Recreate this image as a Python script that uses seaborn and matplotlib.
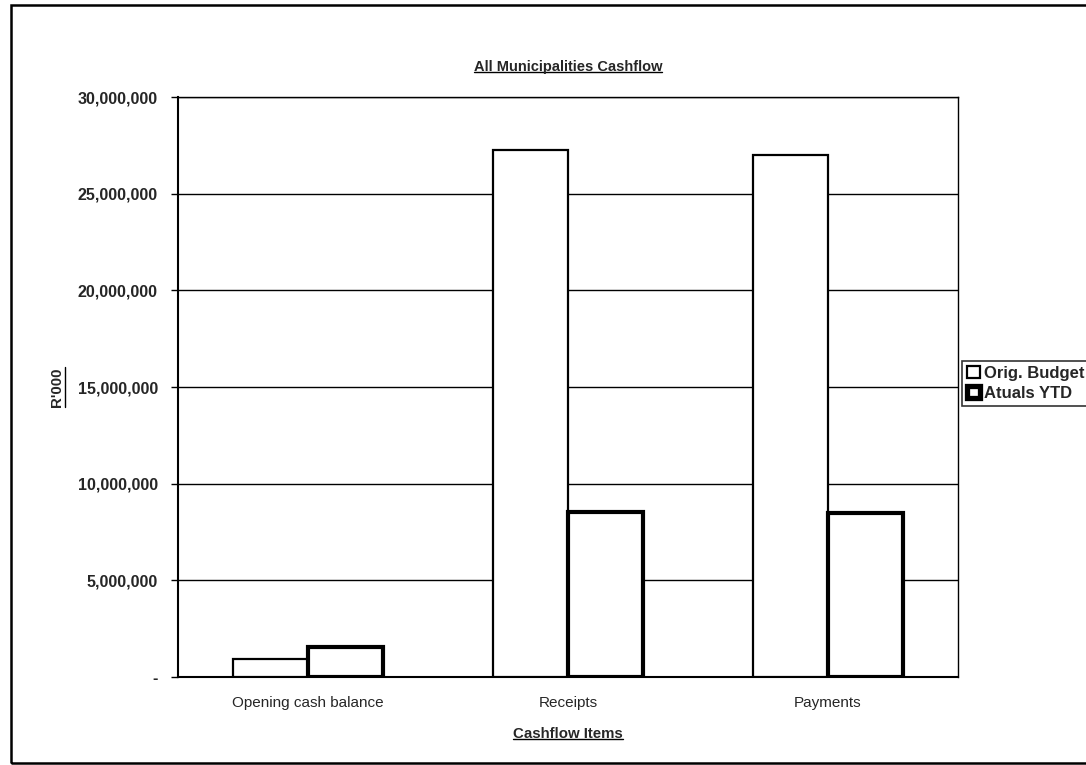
import matplotlib
matplotlib.use("Agg")
import matplotlib.pyplot as plt
import matplotlib.ticker as mticker
from matplotlib.patches import Rectangle, Patch
from matplotlib.lines import Line2D
import seaborn as sns
import pandas as pd

categories = ["Opening cash balance", "Receipts", "Payments"]
series_names = ["Orig. Budget", "Atuals YTD"]
orig_budget = [930000, 27250000, 27000000]
actuals_ytd = [1560000, 8520000, 8460000]
y_ticks = [0, 5000000, 10000000, 15000000, 20000000, 25000000, 30000000]

df = pd.DataFrame({
    "item": categories * 2,
    "series": [series_names[0]] * 3 + [series_names[1]] * 3,
    "value": orig_budget + actuals_ytd,
})

sns.set_theme(style="white")
plt.rcParams["font.family"] = ["Liberation Sans", "DejaVu Sans"]

W, H = 1086, 765
fig = plt.figure(figsize=(W / 100, H / 100), dpi=100)
ax = fig.add_axes([178 / W, 1 - 677 / H, 780 / W, 580 / H])

sns.barplot(data=df, x="item", y="value", hue="series", order=categories,
            hue_order=series_names, palette=["white", "white"], width=0.577,
            ax=ax, legend=False, saturation=1)

edge_widths = [1.6, 3.0]
for cont, lw in zip(ax.containers, edge_widths):
    for bar in cont:
        bar.set_edgecolor("black")
        bar.set_linewidth(lw)
        bar.set_zorder(3)

ax.set_xlim(-0.5, 2.5)
ax.set_ylim(0, 30000000)
ax.set_yticks(y_ticks)
ax.yaxis.set_major_formatter(mticker.FuncFormatter(
    lambda v, p: "-" if v == 0 else f"{int(v):,}"))
ax.grid(axis="y", color="black", linewidth=1.0, zorder=0)
ax.set_axisbelow(True)
for s in ax.spines.values():
    s.set_color("black")
    s.set_linewidth(1.0)
ax.spines["left"].set_linewidth(1.5)
ax.spines["bottom"].set_linewidth(1.5)

ax.tick_params(axis="y", which="major", direction="out", length=5, width=1,
               color="black", left=True, labelsize=11.6, pad=9.5)
ax.tick_params(axis="x", length=0, labelsize=11, pad=14)
for lab in ax.get_yticklabels():
    lab.set_fontweight("bold")

ax.set_xlabel("Cashflow Items", fontsize=10.8, fontweight="bold", labelpad=12)
ax.set_ylabel("R'000", fontsize=10.8, fontweight="bold", labelpad=10)
title = fig.text(568 / W, 1 - 67 / H, "All Municipalities Cashflow",
                 ha="center", va="center", fontsize=10.5, fontweight="bold")

handles = [Patch(facecolor="white", edgecolor="black", linewidth=1.6),
           Patch(facecolor="white", edgecolor="black", linewidth=3.8)]
leg = fig.legend(handles, series_names, loc="upper left",
                 bbox_to_anchor=(962 / W, 1 - 361 / H), frameon=True,
                 fancybox=False, edgecolor="black", fontsize=12,
                 handlelength=0.75, handleheight=0.75, handletextpad=0.25,
                 borderpad=0.3, labelspacing=0.3, borderaxespad=0)
leg.get_frame().set_linewidth(1.2)
for t in leg.get_texts():
    t.set_fontweight("bold")

fig.patches.append(Rectangle((11 / W, 2 / H), 1.2, 1 - 7 / H,
                             transform=fig.transFigure, fill=False,
                             edgecolor="black", linewidth=1.8))

# underline the chart title and the two axis titles
fig.canvas.draw()
renderer = fig.canvas.get_renderer()
inv = fig.transFigure.inverted()
for txt, vertical in [(title, False), (ax.xaxis.label, False), (ax.yaxis.label, True)]:
    bb = txt.get_window_extent(renderer)
    (x0, y0), (x1, y1) = inv.transform([[bb.x0, bb.y0], [bb.x1, bb.y1]])
    if vertical:
        xs = [x1 + 1.0 / W, x1 + 1.0 / W]
        ys = [y0, y1]
    else:
        xs = [x0, x1]
        ys = [y0 + 2.0 / H, y0 + 2.0 / H]
    fig.add_artist(Line2D(xs, ys, transform=fig.transFigure,
                          color="black", linewidth=1.0))

fig.savefig("out.png", dpi=100)
